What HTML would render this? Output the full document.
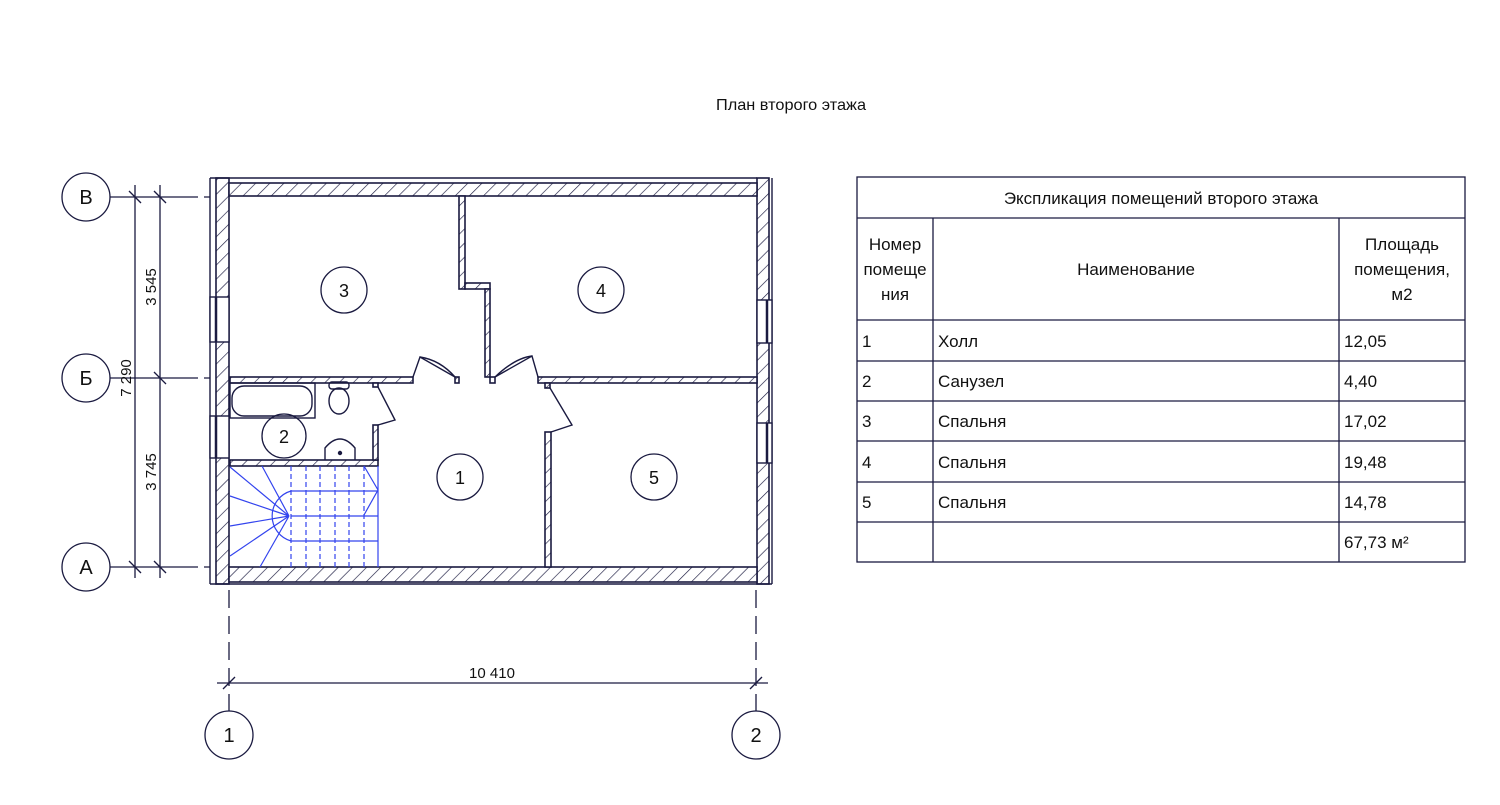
<!DOCTYPE html>
<html><head><meta charset="utf-8"><style>
body{margin:0;background:#fff;}
svg{display:block;font-family:"Liberation Sans",sans-serif;}
</style></head><body>
<svg width="1500" height="805" viewBox="0 0 1500 805" xmlns="http://www.w3.org/2000/svg">
<defs>
<pattern id="h" patternUnits="userSpaceOnUse" width="10" height="10" patternTransform="rotate(45)">
<rect width="10" height="10" fill="#fff"/><line x1="0" y1="0" x2="0" y2="10" stroke="#1a1a40" stroke-width="1.3"/>
</pattern>
</defs>
<text x="716" y="110" font-size="16" fill="#111" textLength="150" lengthAdjust="spacingAndGlyphs">План второго этажа</text>
<g stroke="#1a1a40" stroke-width="1.6" fill="url(#h)">
<rect x="216" y="178" width="13" height="406"/>
<rect x="757" y="178" width="12" height="406"/>
<rect x="229" y="183" width="528" height="13"/>
<rect x="229" y="567" width="528" height="15"/>
<rect x="230" y="377" width="183" height="6"/>
<rect x="455" y="377" width="4" height="6"/>
<rect x="490" y="377" width="5" height="6"/>
<rect x="538" y="377" width="219" height="6"/>
<rect x="459" y="196" width="6" height="93"/>
<rect x="465" y="283" width="25" height="6"/>
<rect x="485" y="289" width="5" height="88"/>
<rect x="230" y="460" width="148" height="6"/>
<rect x="373" y="425" width="5" height="35"/>
<rect x="545" y="432" width="6" height="135"/>
<rect x="373" y="383" width="5" height="4"/>
<rect x="545" y="383" width="5" height="5"/>
</g>
<g stroke="#1a1a40" stroke-width="1.4" fill="none">
<line x1="210" y1="178" x2="210" y2="584"/>
<line x1="210" y1="178" x2="229" y2="178"/>
<line x1="210" y1="584" x2="772" y2="584"/>
<line x1="772" y1="178" x2="772" y2="584"/>
<line x1="229" y1="178" x2="757" y2="178"/>
<rect x="210" y="297" width="19" height="45" fill="#fff"/>
<line x1="216" y1="297" x2="216" y2="342" stroke-width="2.5"/>
<rect x="210" y="416" width="19" height="42" fill="#fff"/>
<line x1="216" y1="416" x2="216" y2="458" stroke-width="2.5"/>
<rect x="757" y="300" width="15" height="43" fill="#fff"/>
<line x1="767" y1="300" x2="767" y2="343" stroke-width="2.5"/>
<rect x="757" y="423" width="15" height="40" fill="#fff"/>
<line x1="767" y1="423" x2="767" y2="463" stroke-width="2.5"/>
<path d="M413 377 L420 357 L455 377"/><path d="M420 357 Q440 360 455 377"/>
<path d="M495 377 L532 356 L538 377"/><path d="M495 377 Q515 358 532 356"/>
<path d="M378 387 L395 420 L378 425"/>
<path d="M550 388 L572 425 L551 432"/>
<rect x="230" y="383" width="85" height="35"/>
<rect x="232" y="386" width="80" height="30" rx="12"/>
<rect x="329" y="382" width="20" height="7" rx="3"/>
<ellipse cx="339" cy="401" rx="10" ry="13"/>
<path d="M325 460 L325 448 Q340 430 355 448 L355 460"/>
<circle cx="340" cy="453" r="1.5" fill="#1a1a40"/>
</g>
<g stroke="#3344ee" stroke-width="1.2" fill="none">
<line x1="291" y1="466" x2="291" y2="567" stroke-dasharray="5,3"/>
<line x1="306" y1="466" x2="306" y2="567" stroke-dasharray="5,3"/>
<line x1="320" y1="466" x2="320" y2="567" stroke-dasharray="5,3"/>
<line x1="335" y1="466" x2="335" y2="567" stroke-dasharray="5,3"/>
<line x1="349" y1="466" x2="349" y2="567" stroke-dasharray="5,3"/>
<line x1="364" y1="466" x2="364" y2="567" stroke-dasharray="5,3"/>
<line x1="378" y1="466" x2="378" y2="567"/>
<line x1="291" y1="491" x2="378" y2="491"/>
<line x1="291" y1="516" x2="378" y2="516"/>
<line x1="291" y1="541" x2="378" y2="541"/>
<path d="M364 466 L378 490 L364 515"/>
<path d="M291 491 A26 26 0 0 0 291 541"/>
<path d="M230 467 L289 516 M262 466 L289 516 M230 496 L289 516 M230 526 L289 516 M230 556 L289 516 M260 567 L289 516"/>
</g>
<g stroke="#1a1a40" stroke-width="1.3" fill="none">
<circle cx="344" cy="290" r="23"/><circle cx="601" cy="290" r="23"/>
<circle cx="284" cy="436" r="22"/><circle cx="460" cy="477" r="23"/>
<circle cx="654" cy="477" r="23"/>
<circle cx="86" cy="197" r="24"/><circle cx="86" cy="378" r="24"/><circle cx="86" cy="567" r="24"/>
<circle cx="229" cy="735" r="24"/><circle cx="756" cy="735" r="24"/>
<line x1="110" y1="197" x2="190" y2="197"/><line x1="110" y1="378" x2="190" y2="378"/><line x1="110" y1="567" x2="190" y2="567"/>
<line x1="190" y1="197" x2="210" y2="197" stroke-dasharray="8,6"/>
<line x1="190" y1="378" x2="210" y2="378" stroke-dasharray="8,6"/>
<line x1="190" y1="567" x2="210" y2="567" stroke-dasharray="8,6"/>
<line x1="135" y1="185" x2="135" y2="578"/><line x1="160" y1="185" x2="160" y2="578"/>
<line x1="129" y1="191" x2="141" y2="203"/><line x1="154" y1="191" x2="166" y2="203"/>
<line x1="154" y1="372" x2="166" y2="384"/>
<line x1="129" y1="561" x2="141" y2="573"/><line x1="154" y1="561" x2="166" y2="573"/>
<line x1="229" y1="590" x2="229" y2="711" stroke-dasharray="18,8"/>
<line x1="756" y1="590" x2="756" y2="711" stroke-dasharray="18,8"/>
<line x1="217" y1="683" x2="768" y2="683"/>
<line x1="223" y1="689" x2="235" y2="677"/><line x1="750" y1="689" x2="762" y2="677"/>
<rect x="857" y="177" width="608" height="385"/>
<line x1="857" y1="218" x2="1465" y2="218"/>
<line x1="857" y1="320" x2="1465" y2="320"/><line x1="857" y1="361" x2="1465" y2="361"/>
<line x1="857" y1="401" x2="1465" y2="401"/><line x1="857" y1="441" x2="1465" y2="441"/>
<line x1="857" y1="482" x2="1465" y2="482"/><line x1="857" y1="522" x2="1465" y2="522"/>
<line x1="933" y1="218" x2="933" y2="562"/><line x1="1339" y1="218" x2="1339" y2="562"/>
</g>
<g font-size="18" fill="#111" text-anchor="middle">
<text x="344" y="297">3</text><text x="601" y="297">4</text><text x="284" y="443">2</text>
<text x="460" y="484">1</text><text x="654" y="484">5</text>
<text x="86" y="204" font-size="20">В</text><text x="86" y="385" font-size="20">Б</text><text x="86" y="574" font-size="20">А</text>
<text x="229" y="742" font-size="20">1</text><text x="756" y="742" font-size="20">2</text>
</g>
<g font-size="15" fill="#111" text-anchor="middle">
<text x="492" y="678">10 410</text>
<text transform="translate(156,287) rotate(-90)">3 545</text>
<text transform="translate(156,472) rotate(-90)">3 745</text>
<text transform="translate(131,378) rotate(-90)">7 290</text>
</g>
<g font-size="17" fill="#111">
<text x="1161" y="204" text-anchor="middle">Экспликация помещений второго этажа</text>
<text x="895" y="250" text-anchor="middle">Номер</text>
<text x="895" y="275" text-anchor="middle">помеще</text>
<text x="895" y="300" text-anchor="middle">ния</text>
<text x="1136" y="275" text-anchor="middle">Наименование</text>
<text x="1402" y="250" text-anchor="middle">Площадь</text>
<text x="1402" y="275" text-anchor="middle">помещения,</text>
<text x="1402" y="300" text-anchor="middle">м2</text>
<text x="862" y="347">1</text><text x="938" y="347">Холл</text><text x="1344" y="347">12,05</text>
<text x="862" y="387">2</text><text x="938" y="387">Санузел</text><text x="1344" y="387">4,40</text>
<text x="862" y="427">3</text><text x="938" y="427">Спальня</text><text x="1344" y="427">17,02</text>
<text x="862" y="468">4</text><text x="938" y="468">Спальня</text><text x="1344" y="468">19,48</text>
<text x="862" y="508">5</text><text x="938" y="508">Спальня</text><text x="1344" y="508">14,78</text>
<text x="1344" y="548">67,73 м²</text>
</g>
</svg>
</body></html>
